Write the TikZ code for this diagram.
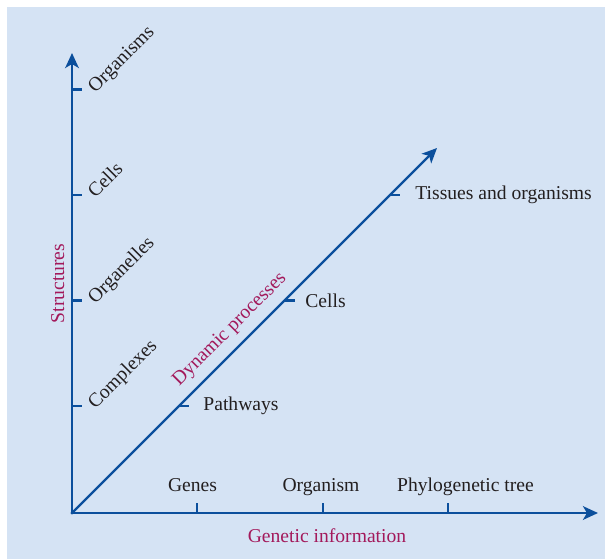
\documentclass[tikz,border=0pt]{standalone}
\usepackage{fontspec}
\setmainfont{Liberation Serif}
\usepackage{tikz}
\usetikzlibrary{arrows.meta}

\definecolor{panelblue}{HTML}{D5E3F4}
\definecolor{axisblue}{HTML}{0B4F9C}
\definecolor{titlered}{HTML}{A3195B}
\definecolor{inkgrey}{HTML}{231F20}

\tikzset{
  axisline/.style={line width=1.3pt, draw=axisblue, line cap=rect,
                   -{Stealth[length=7.5pt,width=6.8pt,inset=2pt]}},
  tickmark/.style={line width=1.1pt, draw=axisblue},
  scalelabel/.style={text=inkgrey, inner sep=0pt, font=\fontsize{9.8}{11}\selectfont},
  axistitle/.style={scalelabel, text=titlered}
}

\begin{document}
\begin{tikzpicture}[x=0.5pt,y=0.5pt]

      %panel
      \fill [panelblue] (7,0) rectangle (605,552);
      \useasboundingbox (0,0) rectangle (605,559);

      %Axes
      \coordinate (O)    at (72,46);
      \coordinate (xend) at (598,46);
      \coordinate (yend) at (72,506);
      \coordinate (dend) at (437,411);
      \draw [axisline] (O) -- (xend);
      \draw [axisline] (O) -- (yend);
      \draw [axisline, line width=1.1pt] (O) -- (dend);

      %Structures axis
      \foreach \ypos/\name [count=\i] in {153/Complexes, 258.5/Organelles, 364/Cells, 469.5/Organisms} {
        \coordinate (st\i) at (72,\ypos);
        \draw [tickmark] (st\i) -- ++(10,0);
        \node [scalelabel, rotate=45, anchor=base west] (stl\i) at (95,\ypos-4) {\name};
      }
      \node [axistitle, rotate=90, anchor=base] (structures) at (64,275.5) {Structures};

      %Genetic information axis
      \foreach \xpos/\lx/\name [count=\i] in {197/192.5/Genes, 323/321/Organism, 448/465.5/Phylogenetic tree} {
        \coordinate (gt\i) at (\xpos,46);
        \draw [tickmark] (gt\i) -- ++(0,10);
        \node [scalelabel, anchor=base] (gtl\i) at (\lx,68) {\name};
      }
      \node [axistitle, anchor=base] (genetic) at (327,17) {Genetic information};

      %Dynamic processes axis
      \foreach \ypos/\lx/\name [count=\i] in {153/203/Pathways, 258.5/305/Cells, 364/415/Tissues and organisms} {
        \coordinate (dt\i) at (72+\ypos-46,\ypos);
        \draw [tickmark] (dt\i) -- ++(10,0);
        \node [scalelabel, anchor=west] (dtl\i) at (\lx,\ypos) {\name};
      }
      \node [axistitle, rotate=45, anchor=base] (dynamic) at (233,226) {Dynamic processes};

    \end{tikzpicture}
\end{document}
